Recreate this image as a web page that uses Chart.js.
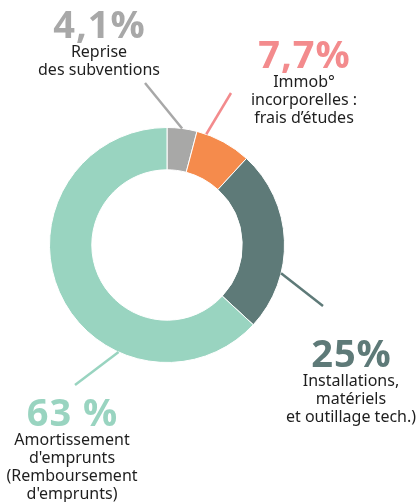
<!DOCTYPE html>
<html lang="fr">
<head>
<meta charset="utf-8">
<title>Répartition</title>
<script src="https://cdn.jsdelivr.net/npm/chart.js@4/dist/chart.umd.min.js"></script>
<style>
  html, body { margin: 0; padding: 0; background: #ffffff; }
  #wrap { position: relative; width: 418px; height: 502px; }
</style>
</head>
<body>
<div id="wrap"><canvas id="donut"></canvas></div>
<script>
// Data
const categories = [
  'Reprise des subventions',
  'Immob° incorporelles : frais d’études',
  'Installations, matériels et outillage tech.)',
  "Amortissement d'emprunts (Remboursement d'emprunts)"
];
const shares = [4.1, 7.7, 25, 63];
const shareLabels = ['4,1%', '7,7%', '25%', '63 %'];
const categoryLines = [
  ['Reprise', 'des subventions'],
  ['Immob°', 'incorporelles :', 'frais d’études'],
  ['Installations,', 'matériels', 'et outillage tech.)'],
  ['Amortissement', "d'emprunts", '(Remboursement', "d'emprunts)"]
];

const sliceColors = ['#a8a8a7', '#f58b4c', '#5e7a78', '#99d4c0'];
const figureColors = ['#a8a8a8', '#f38b8d', '#5e7a78', '#99d4c0'];

// Label placement: block centre x, baseline of the big figure,
// where the leader leaves the arc (fraction of the slice) and where it ends
const labelLayout = [
  { x: 99,  y: 38,  along: 0.5,  end: [145, 83] },
  { x: 304, y: 68,  along: 0.17, end: [231, 93] },
  { x: 351, y: 367, along: 0.68, end: [323, 306] },
  { x: 72,  y: 426, along: 0.315, end: [75, 385] }
];

const leaderLabels = {
  id: 'leaderLabels',
  afterDraw(chart) {
    const ctx = chart.ctx;
    const arcs = chart.getDatasetMeta(0).data;
    ctx.save();

    arcs.forEach((arc, i) => {
      const lay = labelLayout[i];
      const a = arc.startAngle + (arc.endAngle - arc.startAngle) * lay.along;
      const sx = arc.x + Math.cos(a) * arc.outerRadius;
      const sy = arc.y + Math.sin(a) * arc.outerRadius;

      // leader line
      ctx.strokeStyle = figureColors[i];
      ctx.lineWidth = 2.5;
      ctx.lineCap = 'butt';
      ctx.beginPath();
      ctx.moveTo(sx, sy);
      ctx.lineTo(lay.end[0], lay.end[1]);
      ctx.stroke();

      // big percentage
      ctx.textAlign = 'center';
      ctx.textBaseline = 'alphabetic';
      ctx.fillStyle = figureColors[i];
      ctx.font = 'bold 38px "Open Sans", sans-serif';
      ctx.letterSpacing = '1px';
      ctx.fillText(shareLabels[i], lay.x + 0.5, lay.y);
      ctx.letterSpacing = '0px';

      // category text
      ctx.fillStyle = '#1e1e1e';
      ctx.font = '16px "Noto Sans", sans-serif';
      categoryLines[i].forEach((line, k) => {
        ctx.fillText(line, lay.x, lay.y + 19 + k * 18);
      });
    });

    ctx.restore();
  }
};

new Chart(document.getElementById('donut'), {
  type: 'doughnut',
  data: {
    labels: categories,
    datasets: [{
      data: shares,
      backgroundColor: sliceColors,
      borderColor: '#ffffff',
      borderWidth: 1
    }]
  },
  options: {
    responsive: true,
    maintainAspectRatio: false,
    animation: false,
    cutout: '64%',
    layout: {
      padding: { left: 49, right: 133, top: 127, bottom: 139 }
    },
    plugins: {
      legend: { display: false },
      tooltip: { enabled: false }
    }
  },
  plugins: [leaderLabels]
});
</script>
</body>
</html>
